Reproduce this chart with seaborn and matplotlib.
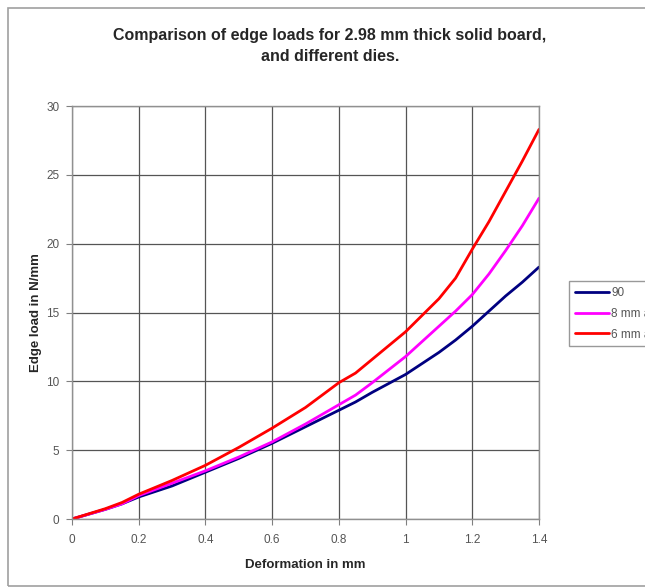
import matplotlib
matplotlib.use("Agg")
import matplotlib.pyplot as plt
import seaborn as sns
import pandas as pd
from matplotlib.patches import Rectangle

deformation = [0, 0.1, 0.15, 0.2, 0.3, 0.4, 0.5, 0.6, 0.7, 0.8, 0.85, 0.9,
               1.0, 1.1, 1.15, 1.2, 1.25, 1.3, 1.35, 1.4]
load_90 = [0, 0.7, 1.1, 1.6, 2.4, 3.4, 4.4, 5.5, 6.7, 7.9, 8.5, 9.2,
           10.5, 12.1, 13.0, 14.0, 15.1, 16.2, 17.2, 18.3]
load_8mm = [0, 0.7, 1.1, 1.7, 2.6, 3.5, 4.5, 5.6, 6.9, 8.3, 9.0, 9.9,
            11.8, 14.0, 15.1, 16.3, 17.8, 19.5, 21.3, 23.3]
load_6mm = [0, 0.75, 1.2, 1.8, 2.8, 3.9, 5.2, 6.6, 8.1, 9.9, 10.6, 11.6,
            13.6, 16.0, 17.5, 19.6, 21.6, 23.8, 26.0, 28.3]
series_names = ["90", "8 mm anvil", "6 mm anvil"]
series_colors = ["#000080", "#FF00FF", "#FF0000"]

x_ticks = [0, 0.2, 0.4, 0.6, 0.8, 1.0, 1.2, 1.4]
x_labels = ["0", "0.2", "0.4", "0.6", "0.8", "1", "1.2", "1.4"]
y_ticks = [0, 5, 10, 15, 20, 25, 30]

rows = []
for name, vals in zip(series_names, [load_90, load_8mm, load_6mm]):
    for xv, yv in zip(deformation, vals):
        rows.append({"x": xv, "y": yv, "series": name})
df = pd.DataFrame(rows)

sns.set_style("white")
plt.rcParams["font.family"] = ["Liberation Sans", "DejaVu Sans"]

fig = plt.figure(figsize=(6.45, 5.88), dpi=100)
fig.patches.append(Rectangle((8 / 645, 2 / 588), 1.0, 578 / 588, transform=fig.transFigure,
                             fill=False, edgecolor="#a0a0a0", linewidth=1.2))
ax = fig.add_axes([72 / 645, 69 / 588, 467 / 645, 413 / 588])

sns.lineplot(data=df, x="x", y="y", hue="series", hue_order=series_names,
             palette=series_colors, linewidth=2, ax=ax, legend=False, sort=False)

ax.set_xlim(0, 1.4)
ax.set_ylim(0, 30)
ax.set_xticks(x_ticks)
ax.set_xticklabels(x_labels)
ax.set_yticks(y_ticks)
ax.grid(True, color="#555555", linewidth=0.9)
ax.set_axisbelow(True)
for s in ax.spines.values():
    s.set_color("#909090")
    s.set_linewidth(1)
ax.tick_params(axis="both", direction="out", length=4, width=0.8, color="#808080",
               labelsize=8.5, labelcolor="#555555", left=True, bottom=True)
ax.tick_params(axis="x", pad=7)
ax.tick_params(axis="y", pad=5)
ax.set_xlabel("Deformation in mm", fontsize=9.5, fontweight="bold", labelpad=9)
ax.set_ylabel("Edge load in N/mm", fontsize=9.5, fontweight="bold", labelpad=3)

fig.text(330 / 645, 1 - 46 / 588,
         "Comparison of edge loads for 2.98 mm thick solid board,\nand different dies.",
         ha="center", va="center", fontsize=11.5, fontweight="bold", linespacing=1.45)

handles = [plt.Line2D([], [], color=c, linewidth=2) for c in series_colors]
leg = fig.legend(handles, series_names, loc="upper left",
                 bbox_to_anchor=(563 / 645, 1 - 275 / 588), frameon=True, fancybox=False,
                 fontsize=8.5, handlelength=2.9, handletextpad=0.2, borderpad=0.5,
                 labelspacing=0.75)
leg.get_frame().set_edgecolor("#808080")
leg.get_frame().set_linewidth(1)
for t in leg.get_texts():
    t.set_color("#555555")

fig.savefig("out.png", dpi=100)
